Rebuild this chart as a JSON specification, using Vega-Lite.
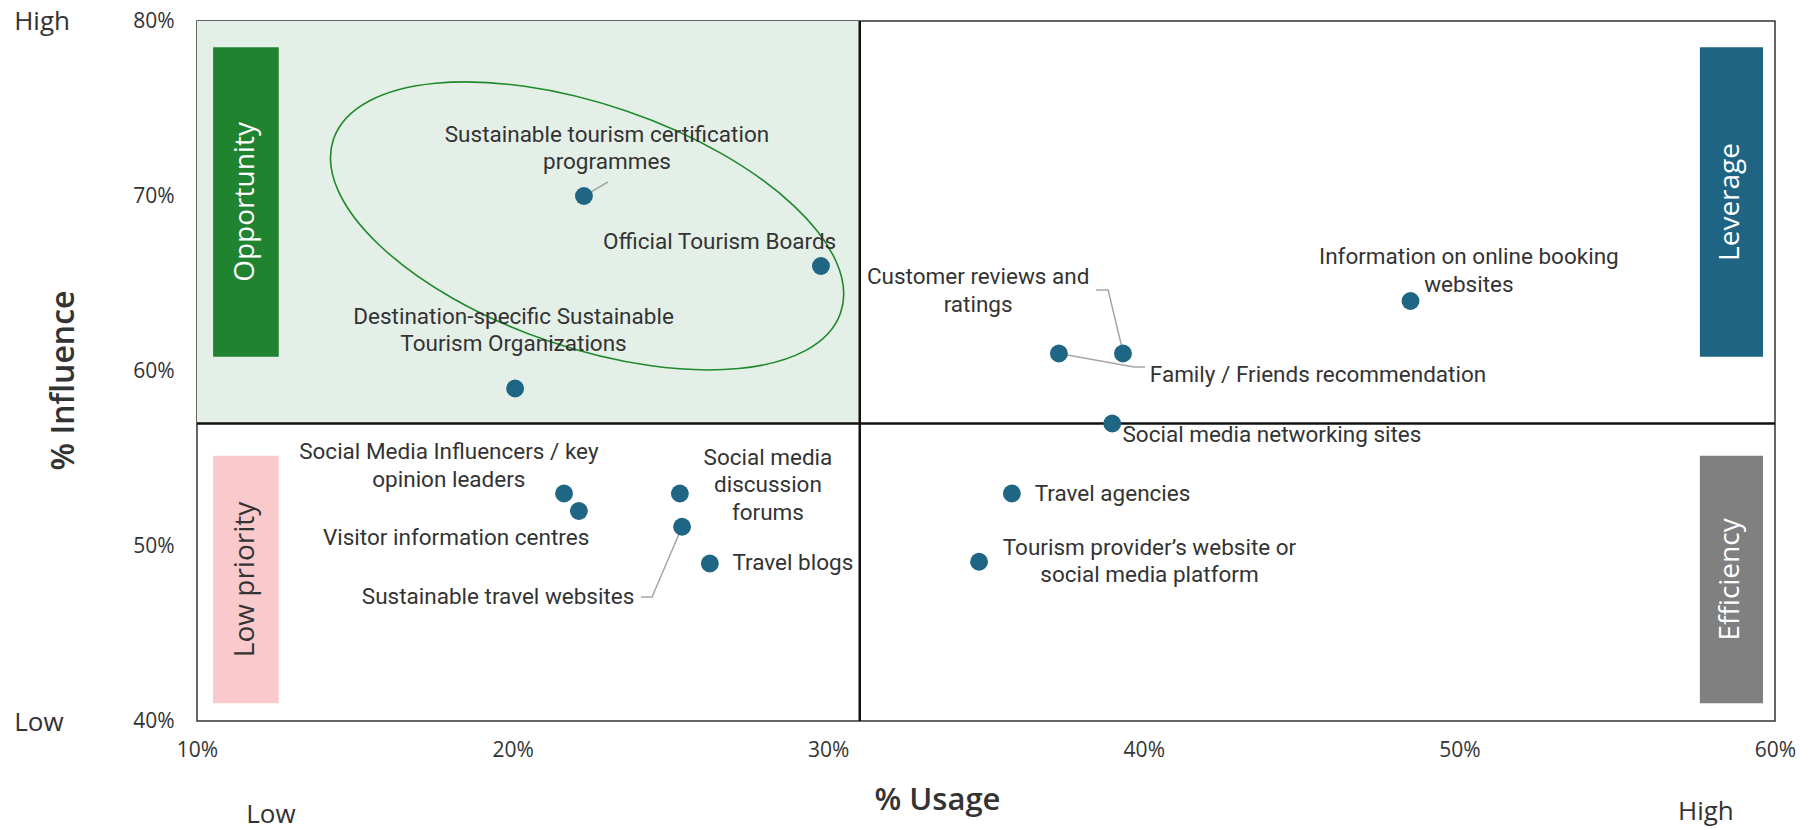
{
  "$schema": "https://vega.github.io/schema/vega-lite/v6.json",
  "width": 1578,
  "height": 700,
  "autosize": {"type": "none"},
  "padding": {"left": 197, "top": 21, "right": 34, "bottom": 109},
  "background": "white",
  "config": {
    "view": {"stroke": "#333333", "strokeWidth": 1.5},
    "font": "Open Sans"
  },
  "datasets": {
    "bg": [{"usage": 10, "usage2": 31, "influence": 57, "influence2": 80}],
    "boxes": [
      {"quadrant": "Opportunity", "usage": 10.51, "usage2": 12.59, "influence": 78.5, "influence2": 60.82, "cu": 11.55, "ci": 69.66},
      {"quadrant": "Low priority", "usage": 10.51, "usage2": 12.59, "influence": 55.16, "influence2": 41.01, "cu": 11.55, "ci": 48.09},
      {"quadrant": "Leverage", "usage": 57.62, "usage2": 59.62, "influence": 78.5, "influence2": 60.82, "cu": 58.62, "ci": 69.66},
      {"quadrant": "Efficiency", "usage": 57.62, "usage2": 59.62, "influence": 55.16, "influence2": 41.01, "cu": 58.62, "ci": 48.09}
    ],
    "vline": [{"usage": 31}],
    "hline": [{"influence": 57}],
    "ellipse": [{"usage": 22.36, "influence": 68.29}],
    "leaders": [
      {"id": "A", "seq": 1, "usage": 22.26, "influence": 70},
      {"id": "A", "seq": 2, "usage": 23.02, "influence": 70.8},
      {"id": "B", "seq": 1, "usage": 38.49, "influence": 64.63},
      {"id": "B", "seq": 2, "usage": 38.87, "influence": 64.63},
      {"id": "B", "seq": 3, "usage": 39.34, "influence": 61.1},
      {"id": "C", "seq": 1, "usage": 37.31, "influence": 61},
      {"id": "C", "seq": 2, "usage": 39.69, "influence": 60.23},
      {"id": "C", "seq": 3, "usage": 40.04, "influence": 60.23},
      {"id": "D", "seq": 1, "usage": 24.07, "influence": 47.09},
      {"id": "D", "seq": 2, "usage": 24.42, "influence": 47.09},
      {"id": "D", "seq": 3, "usage": 25.37, "influence": 51.1}
    ],
    "channels": [
      {"name": "Sustainable tourism certification\nprogrammes", "usage": 22.26, "influence": 70, "label_usage": 22.99, "label_influence": 73.49},
      {"name": "Official Tourism Boards", "usage": 29.77, "influence": 66, "label_usage": 26.56, "label_influence": 67.37},
      {"name": "Destination-specific Sustainable\nTourism Organizations", "usage": 20.08, "influence": 59, "label_usage": 20.03, "label_influence": 63.09},
      {"name": "Customer reviews and\nratings", "usage": 39.34, "influence": 61, "label_usage": 34.75, "label_influence": 65.37},
      {"name": "Family / Friends recommendation", "usage": 37.31, "influence": 61, "label_usage": 45.52, "label_influence": 59.77},
      {"name": "Information on online booking\nwebsites", "usage": 48.45, "influence": 64, "label_usage": 50.3, "label_influence": 66.51},
      {"name": "Social media networking sites", "usage": 39.0, "influence": 57, "label_usage": 44.06, "label_influence": 56.34},
      {"name": "Travel agencies", "usage": 35.82, "influence": 53, "label_usage": 39.01, "label_influence": 53.0},
      {"name": "Tourism provider’s website or\nsocial media platform", "usage": 34.78, "influence": 49.1, "label_usage": 40.18, "label_influence": 49.89},
      {"name": "Social media\ndiscussion\nforums", "usage": 25.3, "influence": 53, "label_usage": 28.09, "label_influence": 55.03},
      {"name": "Sustainable travel websites", "usage": 25.37, "influence": 51.1, "label_usage": 19.54, "label_influence": 47.09},
      {"name": "Travel blogs", "usage": 26.25, "influence": 49, "label_usage": 28.88, "label_influence": 49.03},
      {"name": "Social Media Influencers / key\nopinion leaders", "usage": 21.63, "influence": 53, "label_usage": 17.98, "label_influence": 55.37},
      {"name": "Visitor information centres", "usage": 22.1, "influence": 52, "label_usage": 18.21, "label_influence": 50.46}
    ],
    "corners": [
      {"text": "High", "usage": 5.09, "influence": 79.95},
      {"text": "Low", "usage": 4.99, "influence": 39.89},
      {"text": "Low", "usage": 12.34, "influence": 34.62},
      {"text": "High", "usage": 57.81, "influence": 34.8}
    ]
  },
  "layer": [
    {
      "data": {"name": "bg"},
      "mark": {"type": "rect", "fill": "#e4efe8"},
      "encoding": {
        "x": {
          "field": "usage", "type": "quantitative", "title": "% Usage",
          "scale": {"domain": [10, 60], "nice": false, "zero": false},
          "axis": {
            "values": [10, 20, 30, 40, 50, 60],
            "labelExpr": "datum.value + '%'",
            "grid": false, "ticks": false, "tickSize": 0, "domain": false,
            "labelFlush": false, "labelOverlap": false,
            "labelFont": "Open Sans", "labelFontSize": 21, "labelColor": "#333333",
            "labelBaseline": "middle", "labelPadding": 29,
            "titleFont": "Open Sans", "titleFontSize": 31, "titleFontWeight": 600, "titleColor": "#333333",
            "titleX": 740, "titleY": 79, "titleBaseline": "middle", "titleAlign": "center"
          }
        },
        "x2": {"field": "usage2"},
        "y": {
          "field": "influence", "type": "quantitative", "title": "% Influence",
          "scale": {"domain": [40, 80], "nice": false, "zero": false},
          "axis": {
            "values": [40, 50, 60, 70, 80],
            "labelExpr": "datum.value + '%'",
            "grid": false, "ticks": false, "tickSize": 0, "domain": false,
            "labelFlush": false, "labelOverlap": false,
            "labelFont": "Open Sans", "labelFontSize": 21, "labelColor": "#333333",
            "labelBaseline": "middle", "labelAlign": "right", "labelPadding": 23,
            "titleFont": "Open Sans", "titleFontSize": 32, "titleFontWeight": 600, "titleColor": "#333333",
            "titleX": -134, "titleY": 359, "titleBaseline": "middle", "titleAlign": "center", "titleAngle": -90
          }
        },
        "y2": {"field": "influence2"}
      }
    },
    {
      "data": {"name": "boxes"},
      "mark": {"type": "rect"},
      "encoding": {
        "x": {"field": "usage", "type": "quantitative", "title": "% Usage"},
        "x2": {"field": "usage2"},
        "y": {"field": "influence", "type": "quantitative", "title": "% Influence"},
        "y2": {"field": "influence2"},
        "color": {
          "field": "quadrant", "type": "nominal", "legend": null,
          "scale": {"domain": ["Opportunity", "Low priority", "Leverage", "Efficiency"], "range": ["#208330", "#f9c9cc", "#1f6482", "#808080"]}
        }
      }
    },
    {
      "data": {"name": "vline"},
      "mark": {"type": "rule", "color": "#111111", "strokeWidth": 2.5},
      "encoding": {
        "x": {"field": "usage", "type": "quantitative", "title": "% Usage"}
      }
    },
    {
      "data": {"name": "hline"},
      "mark": {"type": "rule", "color": "#111111", "strokeWidth": 2.5},
      "encoding": {
        "y": {"field": "influence", "type": "quantitative", "title": "% Influence"}
      }
    },
    {
      "data": {"name": "ellipse"},
      "mark": {
        "type": "point", "filled": false, "stroke": "#1f8a2b", "strokeWidth": 1.6, "opacity": 1,
        "shape": "M -1 0 A 1 0.453 0 1 1 1 0 A 1 0.453 0 1 1 -1 0 Z",
        "size": 287296, "angle": 18.9
      },
      "encoding": {
        "x": {"field": "usage", "type": "quantitative", "title": "% Usage"},
        "y": {"field": "influence", "type": "quantitative", "title": "% Influence"}
      }
    },
    {
      "data": {"name": "leaders"},
      "mark": {"type": "line", "color": "#a6a6a6", "strokeWidth": 1.5},
      "encoding": {
        "x": {"field": "usage", "type": "quantitative", "title": "% Usage"},
        "y": {"field": "influence", "type": "quantitative", "title": "% Influence"},
        "detail": {"field": "id", "type": "nominal"},
        "order": {"field": "seq", "type": "quantitative"}
      }
    },
    {
      "data": {"name": "channels"},
      "mark": {"type": "point", "filled": true, "size": 320, "color": "#1f6584", "opacity": 1},
      "encoding": {
        "x": {"field": "usage", "type": "quantitative", "title": "% Usage"},
        "y": {"field": "influence", "type": "quantitative", "title": "% Influence"}
      }
    },
    {
      "data": {"name": "channels"},
      "mark": {
        "type": "text", "font": "Roboto", "fontSize": 22.5, "color": "#333333",
        "align": "center", "baseline": "middle", "lineBreak": "\n", "lineHeight": 27.5
      },
      "encoding": {
        "x": {"field": "label_usage", "type": "quantitative", "title": "% Usage"},
        "y": {"field": "label_influence", "type": "quantitative", "title": "% Influence"},
        "text": {"field": "name", "type": "nominal"}
      }
    },
    {
      "data": {"name": "boxes"},
      "mark": {"type": "text", "font": "Open Sans", "fontSize": 28, "angle": 270, "align": "center", "baseline": "middle"},
      "encoding": {
        "x": {"field": "cu", "type": "quantitative", "title": "% Usage"},
        "y": {"field": "ci", "type": "quantitative", "title": "% Influence"},
        "text": {"field": "quadrant", "type": "nominal"},
        "color": {"condition": {"test": "datum.quadrant === 'Low priority'", "value": "#333333"}, "value": "#ffffff"}
      }
    },
    {
      "data": {"name": "corners"},
      "mark": {"type": "text", "font": "Open Sans", "fontSize": 26, "color": "#333333", "align": "center", "baseline": "middle"},
      "encoding": {
        "x": {"field": "usage", "type": "quantitative", "title": "% Usage"},
        "y": {"field": "influence", "type": "quantitative", "title": "% Influence"},
        "text": {"field": "text", "type": "nominal"}
      }
    }
  ]
}
